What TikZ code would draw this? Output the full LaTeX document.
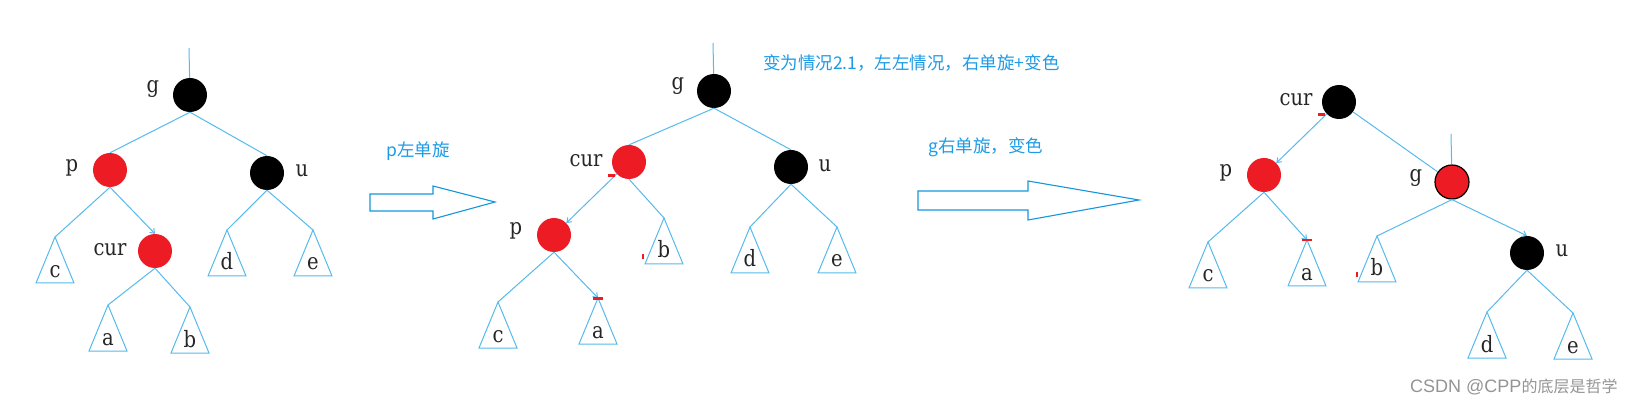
\documentclass[tikz,border=0pt]{standalone}
\usepackage{fontspec}
\setmainfont{DejaVu Serif}
\newfontfamily\namefont[FakeStretch=0.87]{DejaVu Serif}
\newfontfamily\cjkfont{Noto Sans CJK SC}
\newfontfamily\marklatin{Liberation Sans}
\usepackage{tikz}
\usetikzlibrary{arrows.meta, positioning}

\definecolor{treeblue}{RGB}{86,186,236}
\definecolor{arrowblue}{RGB}{20,150,220}
\definecolor{noteblue}{RGB}{30,155,230}
\definecolor{paintred}{RGB}{237,28,36}

\begin{document}
\begin{tikzpicture}[x=1pt, y=-1pt]
        \tikzset{
            tree line/.style={draw=treeblue, line width=1pt},
            tip mark/.style={-{Straight Barb[length=4pt, width=6pt]}},
            red node/.style={circle, fill=paintred, minimum size=34pt, inner sep=0pt},
            black node/.style={circle, fill=black, minimum size=34pt, inner sep=0pt},
            node name/.style={font=\namefont\fontsize{22.5}{26}\selectfont, text=black!85, anchor=base, inner sep=0pt},
            note text/.style={font=\cjkfont\fontsize{17.5}{20}\selectfont, text=noteblue, anchor=west, inner sep=0pt},
            turn arrow/.style={draw=arrowblue, line width=1.1pt, line join=miter},
            subtree/.pic={
                    \coordinate (-top) at (0,0);
                    \draw[tree line] (0,0) -- (-19,46) -- (19,46) -- cycle;
                    \node[node name] (-name) at (0,40) {#1};
                }
        }
        \useasboundingbox (0,0) rectangle (1650,406);

        % before
        \coordinate (gin1) at (189,48);
        \node[black node] (g1) at (190,95) {};
        \node[red node] (p1) at (110,170) {};
        \node[black node] (u1) at (267,173) {};
        \node[red node] (cur1) at (155,251) {};
        \node[node name] (lg1) at (153,93) {g};
        \node[node name] (lp1) at (72,172) {p};
        \node[node name] (lu1) at (302,177) {u};
        \node[node name] (lcur1) at (110,255) {cur};
        \pic (tc1) at (55,237) {subtree=c};
        \pic (ta1) at (108,305) {subtree=a};
        \pic (tb1) at (190,307) {subtree=b};
        \pic (td1) at (227,230) {subtree=d};
        \pic (te1) at (313,230) {subtree=e};
        \draw[tree line] (gin1) -- (g1);
        \draw[tree line] (g1.south) -- (p1.north);
        \draw[tree line] (g1.south) -- (u1.north);
        \draw[tree line] (p1.south) -- (tc1-top);
        \draw[tree line, tip mark] (p1.south) -- (cur1.north);
        \draw[tree line] (cur1.south) -- (ta1-top);
        \draw[tree line] (cur1.south) -- (tb1-top);
        \draw[tree line] (u1.south) -- (td1-top);
        \draw[tree line] (u1.south) -- (te1-top);

        \node[note text] (step1) at (386,151) {p左单旋};
        \draw[turn arrow] (370,194) -- (433,194) -- (433,186) -- (495,202) -- (433,219) -- (433,211) -- (370,211) -- cycle;

        % after rotating p
        \coordinate (gin2) at (713,43);
        \node[black node] (g2) at (714,91) {};
        \node[red node] (cur2) at (629,162) {};
        \node[black node] (u2) at (791,167) {};
        \node[red node] (p2) at (554,235) {};
        \node[node name] (lg2) at (678,90) {g};
        \node[node name] (lcur2) at (586,167) {cur};
        \node[node name] (lu2) at (825,172) {u};
        \node[node name] (lp2) at (516,235) {p};
        \pic (tc2) at (498,302) {subtree=c};
        \pic (ta2) at (598,298) {subtree=a};
        \pic (tb2) at (664,218) {subtree=b};
        \pic (td2) at (750,227) {subtree=d};
        \pic (te2) at (837,227) {subtree=e};
        \draw[tree line] (gin2) -- (g2);
        \draw[tree line] (g2.south) -- (cur2.north);
        \draw[tree line] (g2.south) -- (u2.north);
        \draw[tree line, tip mark] (cur2) -- (p2);
        \draw[tree line] (cur2.south) -- (tb2-top);
        \draw[tree line] (u2.south) -- (td2-top);
        \draw[tree line] (u2.south) -- (te2-top);
        \draw[tree line] (p2.south) -- (tc2-top);
        \draw[tree line, tip mark] (p2.south) -- (ta2-top);
        \fill[paintred] (593,297) rectangle (603,299.5);
        \fill[paintred] (608,174) rectangle (615,177);
        \fill[paintred] (642,254) rectangle (644,259);

        \node[note text] (case2) at (763,63) {变为情况2.1，左左情况，右单旋+变色};
        \node[note text] (step2) at (928,147) {g右单旋，变色};
        \draw[turn arrow] (918,191) -- (1028,191) -- (1028,181) -- (1139,200) -- (1028,220) -- (1028,210) -- (918,210) -- cycle;

        % after rotating g
        \coordinate (gin3) at (1451,134);
        \node[black node] (cur3) at (1339,102) {};
        \node[red node] (p3) at (1264,175) {};
        \node[red node, draw=black, line width=1.2pt] (g3) at (1452,182) {};
        \node[black node] (u3) at (1527,253) {};
        \node[node name] (lcur3) at (1296,106) {cur};
        \node[node name] (lp3) at (1226,177) {p};
        \node[node name] (lg3) at (1416,182) {g};
        \node[node name] (lu3) at (1562,257) {u};
        \pic (tc3) at (1208,242) {subtree=c};
        \pic (ta3) at (1307,240) {subtree=a};
        \pic (tb3) at (1377,236) {subtree=b};
        \pic (td3) at (1487,312) {subtree=d};
        \pic (te3) at (1573,313) {subtree=e};
        \draw[tree line] (gin3) -- (g3);
        \draw[tree line, tip mark] (cur3) -- (p3);
        \draw[tree line] (cur3) -- (g3);
        \draw[tree line] (p3.south) -- (tc3-top);
        \draw[tree line, tip mark] (p3.south) -- (ta3-top);
        \draw[tree line] (g3.south) -- (tb3-top);
        \draw[tree line, tip mark] (g3.south) -- (u3.north);
        \draw[tree line] (u3.south) -- (td3-top);
        \draw[tree line] (u3.south) -- (te3-top);
        \fill[paintred] (1302,239) rectangle (1312,241.5);
        \fill[paintred] (1318,113) rectangle (1325,116);
        \fill[paintred] (1356,272) rectangle (1358,277);

        \node[anchor=west, inner sep=0pt, text=black!42] (mark) at (1410,387)
            {{\marklatin\fontsize{18}{20}\selectfont CSDN @CPP}{\cjkfont\fontsize{16}{20}\selectfont 的底层是哲学}};
    \end{tikzpicture}
\end{document}
